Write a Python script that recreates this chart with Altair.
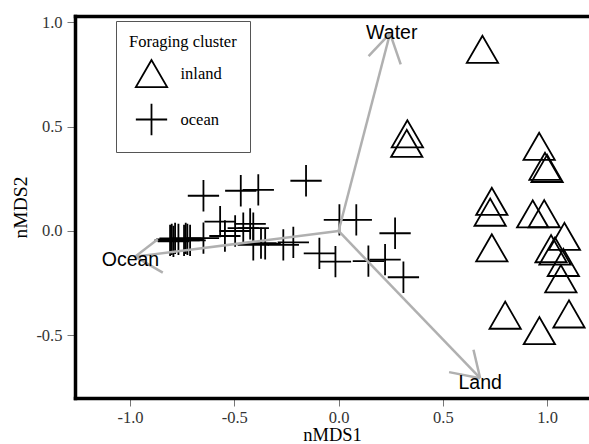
import altair as alt
import pandas as pd

# ---- data ----
inland_x = [0.690, 0.330, 0.327, 0.962, 0.990, 1.000, 0.735, 0.727, 0.931, 0.986,
            0.735, 1.083, 1.019, 1.038, 1.078, 1.066, 0.799, 0.963, 1.105]
inland_y = [0.871, 0.466, 0.420, 0.406, 0.310, 0.300, 0.142, 0.090, 0.082, 0.083,
            -0.081, -0.026, -0.085, -0.096, -0.151, -0.229, -0.404, -0.478, -0.398]

ocean_x = [-0.808, -0.800, -0.792, -0.784, -0.768, -0.741, -0.733, -0.725, -0.712,
           -0.648, -0.568, -0.545, -0.496, -0.457, -0.424, -0.409, -0.409, -0.372,
           -0.352, -0.265, -0.217,
           -0.648, -0.469, -0.385, -0.156,
           0.004, 0.085, 0.271, -0.092, -0.015, 0.143, 0.223, 0.311]
ocean_y = [-0.045, -0.040, -0.050, -0.035, -0.040, -0.045, -0.035, -0.040, -0.045,
           -0.034, 0.045, -0.024, 0.000, 0.014, 0.034, 0.014, -0.067, -0.058,
           -0.062, -0.067, -0.055,
           0.169, 0.193, 0.197, 0.241,
           0.053, 0.053, -0.011, -0.107, -0.147, -0.145, -0.137, -0.222]

vec_names = ["Water", "Land", "Ocean"]
vec_x = [0.247, 0.679, -0.976]
vec_y = [0.948, -0.706, -0.123]
head1_x = [0.144, 0.647, -0.867]
head1_y = [0.839, -0.570, -0.040]
head2_x = [0.298, 0.530, -0.843]
head2_y = [0.799, -0.677, -0.200]
label_x = [0.255, 0.679, -0.998]
label_y = [0.949, -0.729, -0.139]

x_ticks = [-1.0, -0.5, 0.0, 0.5, 1.0]
y_ticks = [-0.5, 0.0, 0.5, 1.0]

# ---- tables ----
pts = pd.DataFrame({
    "x": inland_x + ocean_x,
    "y": inland_y + ocean_y,
    "cluster": ["inland"] * len(inland_x) + ["ocean"] * len(ocean_x),
})
shafts = pd.DataFrame({"x": [0.0] * 3, "y": [0.0] * 3, "x2": vec_x, "y2": vec_y})
heads = pd.DataFrame({
    "x": vec_x + vec_x, "y": vec_y + vec_y,
    "x2": head1_x + head2_x, "y2": head1_y + head2_y,
})
labels = pd.DataFrame({"x": label_x, "y": label_y, "name": vec_names})

xscale = alt.Scale(domain=[-1.264, 1.201], nice=False, zero=False)
yscale = alt.Scale(domain=[-0.801, 1.031], nice=False, zero=False)

serif = "Liberation Serif"
minus_fix = "replace(format(datum.value, '.1f'), '\u2212', '-')"

x_axis = alt.Axis(
    title="nMDS1", values=x_ticks, labelExpr=minus_fix, grid=False,
    domain=True, domainColor="black", domainWidth=3.5, domainCap="square",
    ticks=True, tickColor="#777", tickSize=8, tickWidth=1,
    labelFont=serif, labelFontSize=16.5, labelColor="#333", labelPadding=3,
    titleFont=serif, titleFontSize=18.5, titleFontWeight="normal", titleColor="black",
    titleY=42, titleBaseline="alphabetic",
)
x_top = alt.Axis(
    orient="top", title=None, labels=False, ticks=False, grid=False,
    domain=True, domainColor="black", domainWidth=3.5, domainCap="square",
)
y_axis = alt.Axis(
    title="nMDS2", values=y_ticks, labelExpr=minus_fix, grid=False,
    domain=True, domainColor="black", domainWidth=3.5, domainCap="square",
    ticks=True, tickColor="#777", tickSize=8, tickWidth=1,
    labelFont=serif, labelFontSize=16.5, labelColor="#333", labelPadding=5,
    titleFont=serif, titleFontSize=19.5, titleFontWeight="normal", titleColor="black",
    titleX=-49, titleBaseline="alphabetic",
)

points = alt.Chart(pts).mark_point(
    filled=False, size=980, strokeWidth=1.8, color="black", opacity=1
).encode(
    x=alt.X("x:Q", scale=xscale, axis=x_axis),
    y=alt.Y("y:Q", scale=yscale, axis=y_axis),
    shape=alt.Shape(
        "cluster:N",
        scale=alt.Scale(domain=["inland", "ocean"], range=["triangle-up", "M-1,0H1M0,-1V1"]),
        legend=alt.Legend(
            title="Foraging cluster", orient="none", legendX=41, legendY=5,
            padding=13, strokeColor="#555", fillColor="white",
            titleFont=serif, titleFontSize=16.5, titleFontWeight="normal",
            titleColor="black", titleAnchor="start", titlePadding=6,
            labelFont=serif, labelFontSize=16.5, labelColor="black",
            symbolSize=980, symbolStrokeWidth=1.8, symbolStrokeColor="black",
            symbolFillColor="transparent", rowPadding=8, labelOffset=12,
            symbolOffset=5.5,
        ),
    ),
)

shaft_layer = alt.Chart(shafts).mark_rule(color="#b0b0b0", strokeWidth=2.5).encode(
    x=alt.X("x:Q", scale=xscale, axis=x_top),
    y=alt.Y("y:Q", scale=yscale, axis=y_axis),
    x2="x2:Q", y2="y2:Q",
)
head_layer = alt.Chart(heads).mark_rule(color="#b0b0b0", strokeWidth=2.5).encode(
    x=alt.X("x:Q", scale=xscale, axis=None),
    y=alt.Y("y:Q", scale=yscale, axis=y_axis),
    x2="x2:Q", y2="y2:Q",
)
text_layer = alt.Chart(labels).mark_text(
    font="Liberation Sans", fontSize=19.5, color="black", align="center", baseline="middle"
).encode(
    x=alt.X("x:Q", scale=xscale, axis=None),
    y=alt.Y("y:Q", scale=yscale, axis=y_axis),
    text="name:N",
)

chart = alt.layer(points, shaft_layer, head_layer, text_layer).resolve_axis(
    x="independent"
).properties(
    width=514, height=382,
    autosize=alt.AutoSizeParams(type="none"),
    padding={"left": 75, "top": 16, "right": 0, "bottom": 46},
).configure_view(stroke=None).configure(background="white")

chart.save("out.html", embed_options={"renderer": "svg", "actions": False})
